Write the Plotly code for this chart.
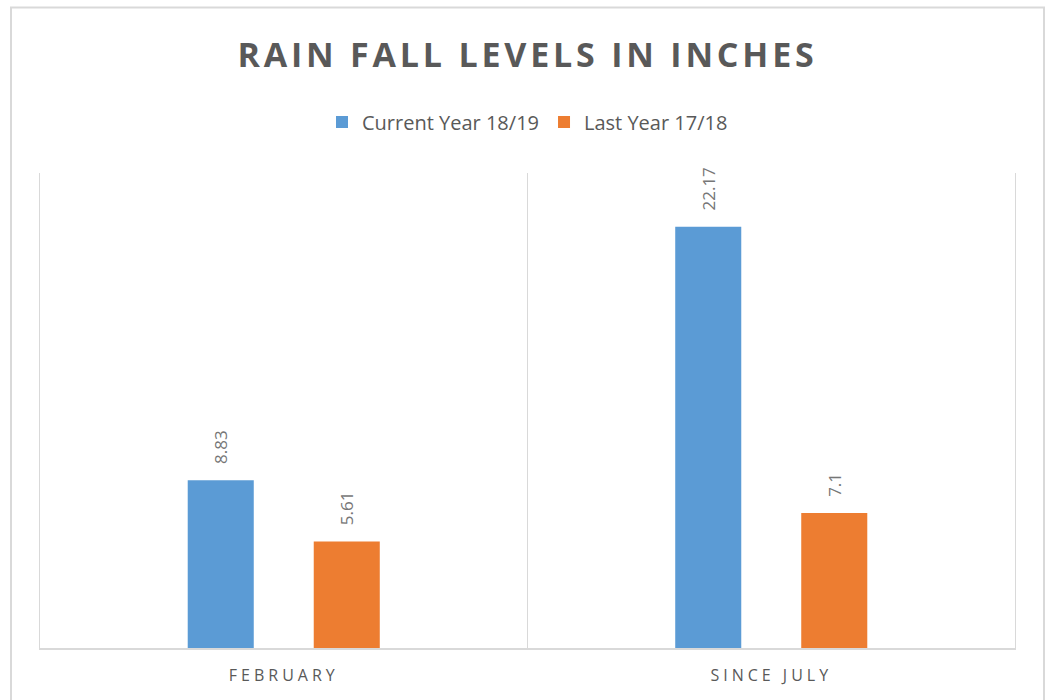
import plotly.graph_objects as go

categories = ["FEBRUARY", "SINCE JULY"]
current_year = [8.83, 22.17]
last_year = [5.61, 7.1]
series_names = ["Current Year 18/19", "Last Year 17/18"]
colors = ["#5b9bd5", "#ed7d31"]

PAD = "\u00a0\u00a0\u00a0"

fig = go.Figure()
for name, vals, col in zip(series_names, [current_year, last_year], colors):
    fig.add_trace(go.Bar(
        x=categories, y=vals, name=name,
        marker=dict(color=col, line=dict(width=0)),
        text=[PAD + str(v) for v in vals], textposition="outside", textangle=-90,
        textfont=dict(family="Open Sans", size=17, color="#767676"),
        cliponaxis=False,
    ))

W, H = 1050, 700
L, R, T, B = 40, 35, 173, 52
pw, ph = W - L - R, H - T - B

fig.update_layout(
    width=W, height=H,
    margin=dict(l=L, r=R, t=T, b=B),
    paper_bgcolor="white", plot_bgcolor="white",
    barmode="group", bargap=0.483, bargroupgap=0.476,
    title=dict(text="<b>RAIN FALL LEVELS IN INCHES</b>", x=0.5, xref="paper", xanchor="center",
               y=1 - 55 / H, yanchor="middle",
               font=dict(family="Open Sans", size=34, color="#595959")),
    legend=dict(orientation="h", x=0.5, xanchor="center", y=(H - B - 122) / ph, yanchor="middle",
                font=dict(family="Open Sans", size=20, color="#595959"),
                itemwidth=30, traceorder="normal"),
    showlegend=True,
    xaxis=dict(tickson="boundaries", showgrid=True, gridcolor="#d9d9d9", gridwidth=1,
               showline=True, linecolor="#d9d9d9", linewidth=2, ticks="",
               tickfont=dict(family="Open Sans", size=16, color="#595959"),
               ticklabelstandoff=12, fixedrange=True),
    yaxis=dict(range=[0, 25], showgrid=False, showticklabels=False, zeroline=False,
               showline=True, mirror=True, linecolor="#d9d9d9", linewidth=1,
               fixedrange=True),
    shapes=[dict(type="rect", xref="paper", yref="paper",
                 x0=(11 - L) / pw, x1=(1044 - L) / pw,
                 y0=(H - B - 740) / ph, y1=(H - B - 7.5) / ph,
                 line=dict(color="#d9d9d9", width=2), fillcolor="rgba(0,0,0,0)", layer="below")],
)

post = """
var s = document.createElement('style');
s.innerHTML = 'body{margin:0;overflow:hidden;} .gtitle{letter-spacing:3.8px;} .xtick text{letter-spacing:4px;}';
document.head.appendChild(s);
"""
fig.write_html("out.html", post_script=post, config={"displayModeBar": False})
